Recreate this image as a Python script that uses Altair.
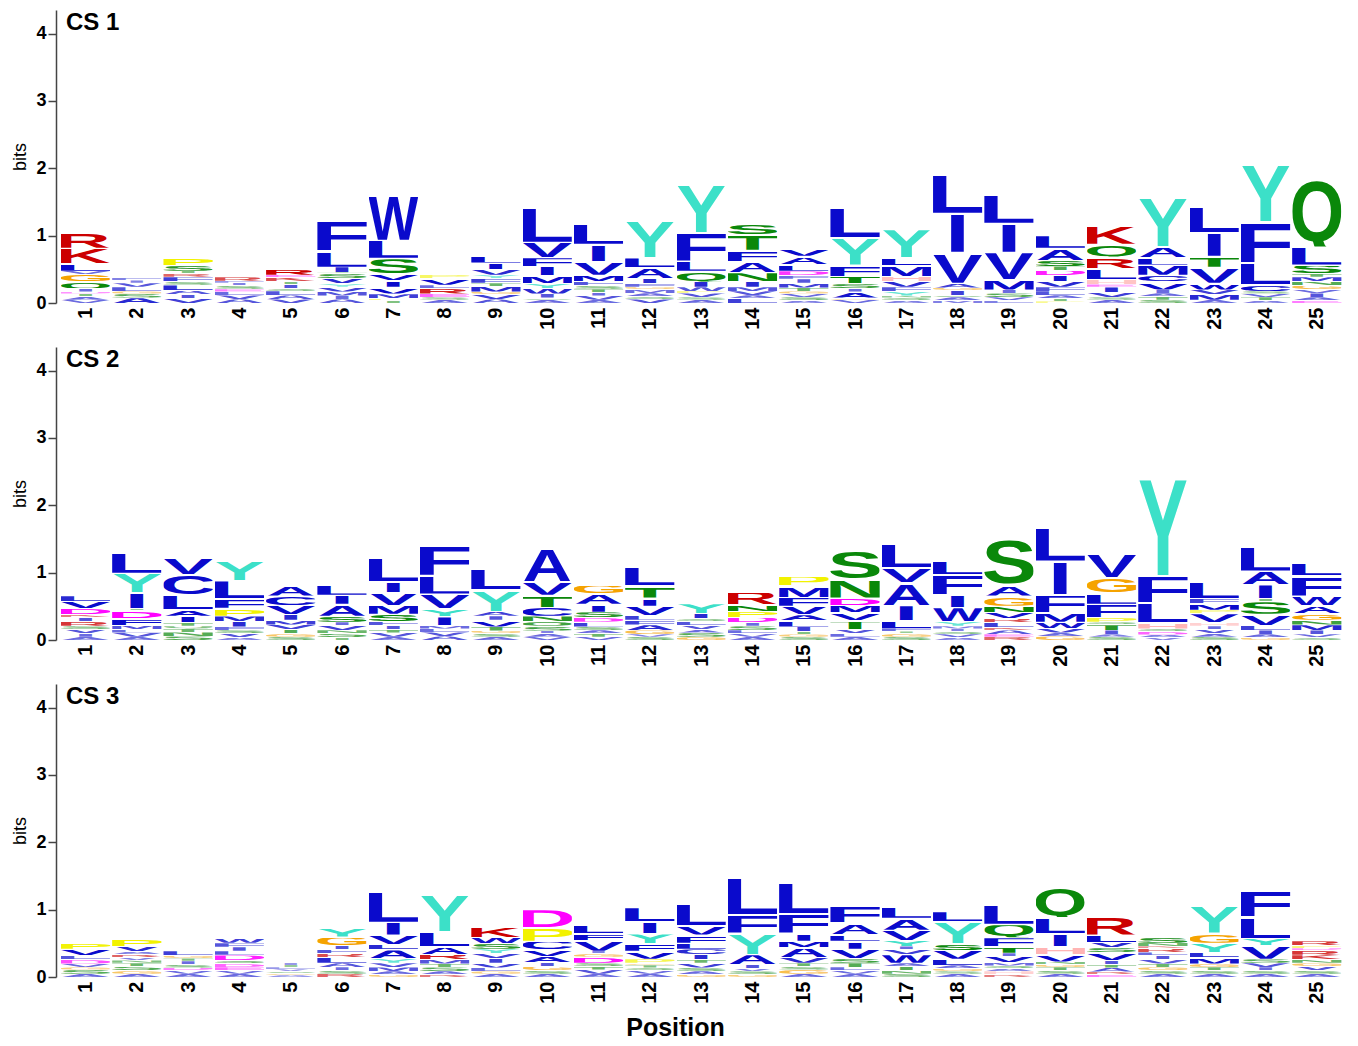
import base64
import altair as alt
import pandas as pd

# ---------------- data ----------------
POSITIONS = list(range(1, 26))

# each position: list of (amino acid, height in bits) from bottom to top
CS1 = [
    [("V", .05), ("A", .05), ("T", .04), ("D", .03), ("I", .05), ("Q", .10), ("G", .11), ("V", .05), ("L", .11), ("K", .23), ("R", .24)],
    [("A", .08), ("S", .06), ("G", .04), ("L", .06), ("V", .06), ("I", .04), ("F", .04)],
    [("V", .07), ("I", .06), ("A", .06), ("L", .08), ("S", .05), ("F", .07), ("R", .05), ("T", .04), ("S", .08), ("P", .12)],
    [("A", .06), ("V", .06), ("L", .05), ("E", .04), ("S", .05), ("I", .04), ("F", .03), ("R", .06)],
    [("V", .06), ("A", .06), ("L", .06), ("S", .04), ("I", .06), ("T", .04), ("K", .06), ("E", .04), ("R", .10)],
    [("A", .06), ("I", .05), ("M", .06), ("V", .07), ("Y", .05), ("V", .08), ("S", .07), ("T", .02), ("I", .08), ("L", .24), ("F", .46)],
    [("T", .04), ("P", .03), ("M", .07), ("V", .10), ("I", .10), ("V", .10), ("S", .23), ("L", .27), ("W", .68)],
    [("A", .05), ("S", .04), ("E", .05), ("R", .08), ("L", .05), ("V", .10), ("P", .05)],
    [("A", .06), ("V", .07), ("G", .04), ("M", .08), ("T", .05), ("F", .07), ("Y", .05), ("V", .08), ("I", .10), ("L", .12)],
    [("A", .05), ("S", .03), ("I", .06), ("W", .08), ("Y", .07), ("M", .12), ("I", .14), ("F", .13), ("V", .23), ("L", .54)],
    [("A", .05), ("V", .06), ("I", .05), ("T", .05), ("S", .05), ("F", .06), ("M", .10), ("V", .20), ("I", .26), ("L", .31)],
    [("V", .06), ("S", .04), ("A", .05), ("M", .05), ("G", .04), ("F", .05), ("I", .08), ("A", .16), ("L", .15), ("Y", .55)],
    [("A", .05), ("S", .04), ("V", .06), ("P", .03), ("W", .06), ("I", .08), ("Q", .16), ("L", .15), ("F", .42), ("Y", .74)],
    [("L", .07), ("A", .05), ("V", .06), ("M", .06), ("I", .08), ("N", .14), ("A", .16), ("F", .17), ("T", .23), ("S", .16)],
    [("A", .04), ("S", .05), ("V", .05), ("G", .04), ("T", .05), ("M", .07), ("I", .06), ("F", .05), ("D", .07), ("L", .10), ("A", .12), ("V", .12)],
    [("V", .05), ("G", .03), ("A", .09), ("I", .05), ("S", .07), ("T", .11), ("F", .17), ("Y", .41), ("L", .46)],
    [("A", .04), ("S", .04), ("N", .03), ("Y", .07), ("F", .06), ("V", .08), ("H", .08), ("M", .16), ("L", .12), ("Y", .42)],
    [("M", .04), ("A", .05), ("S", .03), ("I", .07), ("G", .04), ("A", .07), ("V", .46), ("I", .58), ("L", .59)],
    [("L", .04), ("V", .05), ("S", .06), ("I", .05), ("M", .15), ("V", .41), ("I", .43), ("L", .42)],
    [("P", .03), ("T", .04), ("A", .05), ("L", .06), ("F", .06), ("V", .08), ("I", .09), ("D", .08), ("T", .06), ("S", .09), ("A", .18), ("L", .19)],
    [("A", .05), ("S", .04), ("V", .07), ("I", .08), ("E", .04), ("H", .07), ("L", .17), ("R", .17), ("Q", .19), ("K", .27)],
    [("S", .05), ("T", .05), ("A", .05), ("I", .05), ("V", .12), ("C", .10), ("M", .15), ("L", .11), ("A", .16), ("Y", .75)],
    [("A", .05), ("M", .08), ("V", .07), ("W", .10), ("V", .24), ("T", .16), ("I", .35), ("L", .38)],
    [("A", .04), ("T", .05), ("V", .05), ("S", .04), ("C", .10), ("L", .33), ("F", .60), ("Y", .87)],
    [("E", .04), ("A", .05), ("I", .06), ("V", .05), ("G", .06), ("N", .06), ("M", .07), ("T", .05), ("S", .13), ("L", .27), ("Q", 1.02)],
]

CS2 = [
    [("A", .05), ("I", .05), ("V", .06), ("S", .05), ("R", .07), ("I", .06), ("K", .04), ("D", .09), ("V", .11), ("L", .08)],
    [("A", .05), ("V", .06), ("L", .05), ("M", .06), ("F", .10), ("D", .12), ("T", .03), ("I", .24), ("Y", .29), ("L", .32)],
    [("S", .06), ("N", .06), ("T", .05), ("Q", .04), ("T", .05), ("I", .10), ("A", .10), ("L", .22), ("C", .30), ("V", .26)],
    [("A", .04), ("V", .06), ("S", .05), ("F", .05), ("I", .08), ("M", .08), ("P", .12), ("F", .14), ("L", .27), ("Y", .29)],
    [("S", .05), ("G", .05), ("T", .06), ("V", .07), ("M", .07), ("I", .08), ("V", .14), ("C", .14), ("A", .16)],
    [("T", .04), ("S", .06), ("N", .05), ("V", .07), ("I", .05), ("S", .09), ("A", .18), ("I", .13), ("L", .16)],
    [("A", .05), ("V", .06), ("T", .05), ("I", .06), ("F", .06), ("S", .11), ("M", .13), ("V", .19), ("I", .16), ("L", .36)],
    [("A", .06), ("V", .06), ("L", .05), ("M", .05), ("I", .13), ("Y", .12), ("V", .22), ("L", .28), ("F", .46)],
    [("A", .05), ("S", .05), ("G", .04), ("T", .06), ("V", .10), ("I", .06), ("A", .07), ("Y", .32), ("L", .31)],
    [("V", .05), ("A", .05), ("I", .04), ("S", .07), ("Q", .07), ("N", .08), ("C", .13), ("T", .18), ("V", .20), ("A", .50)],
    [("V", .05), ("T", .05), ("A", .05), ("S", .05), ("L", .07), ("D", .07), ("S", .08), ("I", .12), ("A", .15), ("G", .13)],
    [("S", .05), ("V", .04), ("G", .06), ("A", .08), ("F", .07), ("L", .07), ("V", .14), ("I", .12), ("T", .18), ("L", .28)],
    [("G", .05), ("S", .06), ("A", .05), ("V", .06), ("L", .06), ("S", .04), ("I", .08), ("Y", .15)],
    [("A", .05), ("V", .05), ("L", .05), ("S", .06), ("I", .05), ("D", .08), ("P", .09), ("N", .10), ("R", .19)],
    [("S", .05), ("G", .04), ("T", .04), ("I", .07), ("L", .09), ("A", .09), ("V", .13), ("F", .13), ("M", .17), ("P", .15)],
    [("A", .05), ("L", .05), ("V", .06), ("T", .13), ("V", .12), ("M", .11), ("D", .11), ("N", .28), ("S", .42)],
    [("S", .05), ("G", .05), ("T", .03), ("F", .05), ("L", .11), ("I", .23), ("A", .34), ("V", .22), ("L", .36)],
    [("A", .04), ("V", .05), ("S", .04), ("I", .04), ("M", .04), ("Y", .07), ("W", .21), ("I", .19), ("F", .30), ("L", .20)],
    [("R", .05), ("E", .04), ("A", .06), ("K", .04), ("L", .07), ("R", .06), ("V", .09), ("N", .10), ("G", .15), ("A", .17), ("S", .69)],
    [("G", .06), ("A", .05), ("V", .07), ("W", .09), ("M", .14), ("F", .27), ("I", .50), ("L", .52)],
    [("S", .05), ("A", .04), ("I", .06), ("T", .08), ("S", .04), ("P", .07), ("F", .20), ("L", .17), ("G", .22), ("V", .36)],
    [("V", .04), ("A", .04), ("D", .05), ("S", .04), ("H", .09), ("L", .30), ("F", .40), ("Y", 1.47)],
    [("S", .05), ("A", .05), ("V", .06), ("I", .05), ("H", .05), ("V", .14), ("P", .05), ("M", .10), ("F", .07), ("L", .26)],
    [("G", .04), ("A", .05), ("I", .06), ("L", .07), ("V", .17), ("S", .19), ("T", .04), ("I", .21), ("A", .20), ("L", .37)],
    [("S", .04), ("V", .05), ("I", .06), ("M", .08), ("N", .07), ("G", .10), ("A", .12), ("W", .14), ("F", .30), ("L", .19)],
]

CS3 = [
    [("A", .05), ("S", .06), ("G", .04), ("V", .05), ("D", .06), ("L", .06), ("V", .10), ("P", .09)],
    [("A", .05), ("G", .05), ("S", .06), ("T", .05), ("N", .04), ("V", .04), ("R", .05), ("A", .04), ("V", .08), ("P", .12)],
    [("A", .05), ("V", .05), ("D", .04), ("S", .05), ("I", .05), ("T", .04), ("G", .04), ("L", .07)],
    [("A", .05), ("V", .05), ("E", .05), ("D", .05), ("S", .05), ("D", .08), ("L", .06), ("I", .06), ("F", .06), ("W", .07)],
    [("A", .03), ("G", .03), ("S", .03), ("V", .03), ("L", .03), ("T", .03), ("I", .03)],
    [("R", .05), ("S", .05), ("I", .05), ("A", .06), ("L", .08), ("R", .06), ("F", .06), ("I", .06), ("G", .13), ("Y", .14)],
    [("G", .04), ("A", .05), ("M", .06), ("V", .06), ("Y", .07), ("A", .13), ("L", .08), ("V", .14), ("I", .19), ("L", .47)],
    [("R", .04), ("A", .05), ("S", .06), ("T", .05), ("M", .06), ("R", .08), ("A", .12), ("L", .22), ("Y", .55)],
    [("A", .05), ("G", .04), ("L", .05), ("V", .07), ("I", .07), ("V", .07), ("Y", .07), ("S", .08), ("W", .09), ("K", .17)],
    [("A", .05), ("S", .05), ("G", .06), ("I", .06), ("A", .09), ("V", .10), ("C", .13), ("P", .20), ("D", .27)],
    [("A", .05), ("V", .06), ("T", .05), ("S", .05), ("D", .09), ("G", .05), ("I", .04), ("V", .16), ("F", .10), ("L", .13)],
    [("A", .05), ("V", .05), ("S", .04), ("T", .04), ("G", .03), ("P", .06), ("V", .12), ("F", .11), ("Y", .15), ("I", .18), ("L", .21)],
    [("G", .04), ("A", .05), ("S", .05), ("V", .07), ("T", .05), ("I", .08), ("C", .08), ("L", .09), ("F", .12), ("V", .14), ("L", .33)],
    [("G", .04), ("S", .05), ("V", .04), ("I", .06), ("A", .15), ("Y", .32), ("F", .27), ("L", .55)],
    [("A", .05), ("G", .06), ("S", .05), ("T", .05), ("V", .08), ("A", .15), ("M", .10), ("I", .12), ("F", .29), ("L", .47)],
    [("A", .05), ("V", .05), ("L", .05), ("T", .06), ("S", .07), ("V", .14), ("I", .12), ("L", .10), ("A", .17), ("F", .25)],
    [("S", .05), ("N", .05), ("T", .06), ("A", .05), ("W", .13), ("V", .07), ("I", .05), ("Y", .09), ("V", .15), ("A", .18), ("L", .18)],
    [("A", .05), ("S", .04), ("G", .04), ("A", .05), ("L", .09), ("V", .13), ("S", .10), ("Y", .33), ("L", .15)],
    [("R", .04), ("H", .05), ("A", .04), ("S", .04), ("M", .05), ("V", .09), ("I", .05), ("T", .10), ("F", .13), ("Q", .20), ("L", .29)],
    [("A", .05), ("S", .05), ("T", .05), ("G", .04), ("N", .04), ("V", .11), ("H", .12), ("I", .19), ("L", .24), ("Q", .44)],
    [("E", .04), ("R", .04), ("A", .06), ("T", .05), ("I", .06), ("V", .12), ("S", .07), ("V", .08), ("L", .11), ("R", .27)],
    [("A", .05), ("S", .05), ("G", .05), ("T", .05), ("V", .06), ("I", .06), ("L", .05), ("R", .06), ("K", .03), ("N", .05), ("S", .08)],
    [("A", .05), ("S", .05), ("T", .05), ("G", .05), ("M", .09), ("L", .08), ("Y", .14), ("G", .15), ("Y", .40)],
    [("A", .05), ("S", .05), ("I", .05), ("V", .06), ("S", .06), ("V", .20), ("Y", .11), ("L", .32), ("F", .39)],
    [("A", .05), ("S", .05), ("V", .06), ("G", .05), ("N", .05), ("K", .07), ("R", .07), ("D", .03), ("P", .04), ("R", .07)],
]

PANEL_NAMES = ["CS 1", "CS 2", "CS 3"]

# ---------------- glyph styling ----------------
BLUE, TURQ, GREEN, ORANGE = "#0A0ACC", "#3CE0C8", "#0A880A", "#F5A300"
YELLOW, MAGENTA, RED, PINK = "#F2F200", "#FF00FF", "#CC0000", "#FFB4B4"
COLORS = {
    "A": BLUE, "C": BLUE, "F": BLUE, "I": BLUE, "L": BLUE, "M": BLUE, "V": BLUE, "W": BLUE,
    "Y": TURQ, "S": GREEN, "T": GREEN, "N": GREEN, "Q": GREEN, "G": ORANGE, "P": YELLOW,
    "D": MAGENTA, "E": MAGENTA, "K": RED, "R": RED, "H": PINK,
}
# ink box of each bold capital (left, right, top, bottom) in 1/1000 em
INK = {
    "A": (0, 720, 716, 0), "C": (45, 680, 728, -12), "D": (75, 672, 716, 0),
    "E": (75, 612, 716, 0), "F": (75, 565, 716, 0), "G": (45, 718, 728, -12),
    "H": (73, 650, 716, 0), "I": (-140, 420, 716, 0), "K": (75, 725, 716, 0),
    "L": (75, 580, 716, 0), "M": (70, 765, 716, 0), "N": (75, 648, 716, 0),
    "P": (75, 620, 716, 0), "Q": (40, 745, 728, -60), "R": (75, 715, 716, 0),
    "S": (35, 625, 728, -12), "T": (22, 590, 716, 0), "V": (0, 668, 716, 0),
    "W": (3, 942, 716, 0), "Y": (0, 668, 716, 0),
}


def glyph_url(aa):
    l, r, t, b = INK[aa]
    w, h = r - l, t - b
    svg = (
        f'<svg xmlns="http://www.w3.org/2000/svg" width="{w}" height="{h}" '
        f'viewBox="{l} {-t} {w} {h}" preserveAspectRatio="none">'
        f'<text x="0" y="0" font-family="Liberation Sans, Arial, sans-serif" '
        f'font-weight="bold" font-size="1000" fill="{COLORS[aa]}">{aa}</text></svg>'
    )
    return "data:image/svg+xml;base64," + base64.b64encode(svg.encode()).decode()


GLYPHS = pd.DataFrame({"aa": list(INK.keys()), "url": [glyph_url(a) for a in INK]})


def table(cols):
    rows = []
    for p, col in zip(POSITIONS, cols):
        for i, (aa, h) in enumerate(col):
            rows.append({"pos": p, "order": i, "aa": aa, "h": h})
    return pd.DataFrame(rows)


FONT = "Liberation Sans"


def panel(name, cols, last):
    xaxis = alt.Axis(
        values=POSITIONS, labelAngle=270, labelAlign="right", labelBaseline="middle",
        labelFontSize=20, labelFontWeight="bold", labelPadding=4, labelColor="black",
        ticks=False, domain=False, grid=False, labelOverlap=False, labelFlush=False,
        titleFontSize=25, titleFontWeight="bold", titlePadding=12, titleColor="black",
        titleX=619,
    )
    yaxis = alt.Axis(
        values=[0, 1, 2, 3, 4], grid=False, tickSize=8, tickColor="#444", tickWidth=1.5,
        domainColor="#444", domainWidth=1.5, labelFontSize=18, labelFontWeight="bold",
        labelColor="black", labelPadding=2, titleFontSize=18, titleFontWeight="normal",
        titleColor="black", titlePadding=6,
    )
    letters = (
        alt.Chart(table(cols))
        .transform_lookup(lookup="aa", from_=alt.LookupData(GLYPHS, "aa", ["url"]))
        .transform_stack(stack="h", groupby=["pos"], as_=["y0", "y1"],
                         sort=[alt.SortField("order", order="ascending")])
        .transform_calculate(x0="datum.pos - 0.48", x1="datum.pos + 0.48",
                             y1v="datum.y1 - min(0.02, 0.12 * datum.h)",
                             op="min(1, 0.15 + 9 * datum.h)")
        .mark_image(aspect=False)
        .encode(
            x=alt.X("x0:Q", title="Position" if last else None,
                    scale=alt.Scale(domain=[0.425, 25.53], nice=False, zero=False), axis=xaxis),
            x2="x1:Q",
            y=alt.Y("y0:Q", title="bits",
                    scale=alt.Scale(domain=[0, 4.35], nice=False, zero=True), axis=yaxis),
            y2="y1v:Q",
            url="url:N",
            opacity=alt.Opacity("op:Q", scale=None, legend=None),
        )
    )
    label = (
        alt.Chart(pd.DataFrame({"label": [name]}))
        .mark_text(align="left", baseline="middle", fontSize=24, fontWeight="bold",
                   font=FONT, color="black")
        .encode(text="label:N", x=alt.value(10), y=alt.value(13))
    )
    return alt.layer(letters, label).properties(width=1288, height=293)


chart = (
    alt.vconcat(
        panel(PANEL_NAMES[0], CS1, False),
        panel(PANEL_NAMES[1], CS2, False),
        panel(PANEL_NAMES[2], CS3, True),
        spacing=17,
    )
    .properties(padding={"left": 3, "top": 2, "right": 0, "bottom": 0})
    .configure(font=FONT)
    .configure_view(stroke=None)
)

chart.save("out.html", embed_options={"renderer": "svg", "actions": False})
